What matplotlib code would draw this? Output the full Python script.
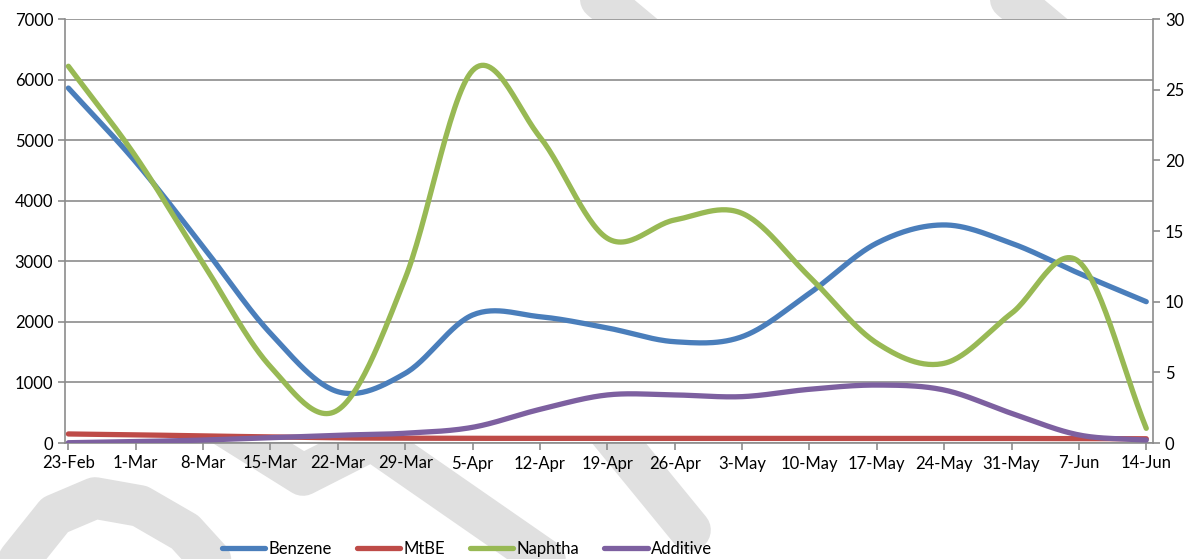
import numpy as np
import matplotlib
matplotlib.use("Agg")
import matplotlib.pyplot as plt
from matplotlib.lines import Line2D

plt.rcParams['font.family'] = ['Lato', 'DejaVu Sans']

weeks = ["23-Feb", "1-Mar", "8-Mar", "15-Mar", "22-Mar", "29-Mar", "5-Apr", "12-Apr",
         "19-Apr", "26-Apr", "3-May", "10-May", "17-May", "24-May", "31-May", "7-Jun", "14-Jun"]

# left axis
benzene = [5860, 4640, 3240, 1810, 847, 1150, 2113, 2085, 1900, 1672, 1755, 2471, 3300, 3600, 3297, 2802, 2333]
naphtha = [6220, 4730, 2966, 1260, 545, 2720, 6150, 5050, 3380, 3682, 3792, 2746, 1650, 1316, 2141, 2993, 242]
# right axis
mtbe = [0.64, 0.58, 0.50, 0.43, 0.36, 0.34, 0.33, 0.33, 0.33, 0.33, 0.33, 0.33, 0.33, 0.33, 0.32, 0.31, 0.30]
additive = [0.02, 0.10, 0.21, 0.38, 0.55, 0.69, 1.11, 2.38, 3.40, 3.40, 3.28, 3.80, 4.10, 3.75, 2.10, 0.57, 0.21]

colors = {"Benzene": "#4a7ebb", "MtBE": "#be4b48", "Naphtha": "#98b954", "Additive": "#7d60a0"}


def smooth(y, n=30):
    # Catmull-Rom, like Excel's smoothed line
    y = np.asarray(y, float)
    p = np.concatenate([[2 * y[0] - y[1]], y, [2 * y[-1] - y[-2]]])
    xs, ys = [], []
    t = np.linspace(0, 1, n, endpoint=False)
    for i in range(len(y) - 1):
        p0, p1, p2, p3 = p[i], p[i + 1], p[i + 2], p[i + 3]
        yy = 0.5 * ((2 * p1) + (-p0 + p2) * t + (2 * p0 - 5 * p1 + 4 * p2 - p3) * t ** 2
                    + (-p0 + 3 * p1 - 3 * p2 + p3) * t ** 3)
        xs.append(i + t)
        ys.append(yy)
    xs.append([len(y) - 1])
    ys.append([y[-1]])
    return np.concatenate(xs), np.concatenate(ys)


fig = plt.figure(figsize=(11.95, 5.59), dpi=100)

# watermark behind everything
bg = fig.add_axes([0, 0, 1, 1], zorder=0)
bg.set_xlim(0, 1195)
bg.set_ylim(559, 0)
bg.axis("off")
wm = "#e0e0e0"
strokes = [
    [(15, 565), (55, 515), (95, 498), (140, 506), (185, 532), (215, 565)],
    [(215, 420), (303, 475), (372, 440), (545, 560)],
    [(600, 420), (690, 530)],
    [(590, -10), (650, 40)],
    [(1000, -10), (1060, 40)],
]
for s in strokes:
    s = np.array(s)
    bg.plot(s[:, 0], s[:, 1], color=wm, lw=30, solid_capstyle="round", solid_joinstyle="round")

ax = fig.add_axes([65 / 1195, 1 - 443 / 559, (1153 - 65) / 1195, (443 - 19) / 559], zorder=1)
ax.set_facecolor("white")
ax2 = ax.twinx()

x = np.arange(len(weeks))
for name, vals, a in [("Benzene", benzene, ax), ("MtBE", mtbe, ax2),
                      ("Naphtha", naphtha, ax), ("Additive", additive, ax2)]:
    sx, sy = smooth(vals)
    a.plot(sx, sy, color=colors[name], lw=3.8, solid_capstyle="round")

ax.set_ylim(0, 7000)
ax.set_yticks(range(0, 7001, 1000))
ax2.set_ylim(0, 30)
ax2.set_yticks(range(0, 31, 5))
ax.set_xlim(-0.05, 16.1)
ax.set_xticks(x)
ax.set_xticklabels(weeks)
ax.yaxis.grid(True, color="#8c8c8c", lw=1.2)
ax.set_axisbelow(True)

for a in (ax, ax2):
    for sp in a.spines.values():
        sp.set_visible(False)
    a.tick_params(colors="#8c8c8c", labelcolor="black", labelsize=12, length=5, width=1.2)
ax.spines["left"].set_visible(True)
ax.spines["bottom"].set_visible(True)
ax2.spines["right"].set_visible(True)
for sp in (ax.spines["left"], ax.spines["bottom"], ax2.spines["right"]):
    sp.set_color("#8c8c8c")
    sp.set_linewidth(1.2)
ax.tick_params(axis="x", pad=4)

handles = [Line2D([], [], color=colors[n], lw=3.8, solid_capstyle="round") for n in colors]
fig.legend(handles, list(colors), loc="center", bbox_to_anchor=(467 / 1195, 1 - 549 / 559),
           ncol=4, frameon=False, fontsize=12, handlelength=2.6, handletextpad=0.2,
           columnspacing=1.5)

fig.savefig("out.png", dpi=100)
